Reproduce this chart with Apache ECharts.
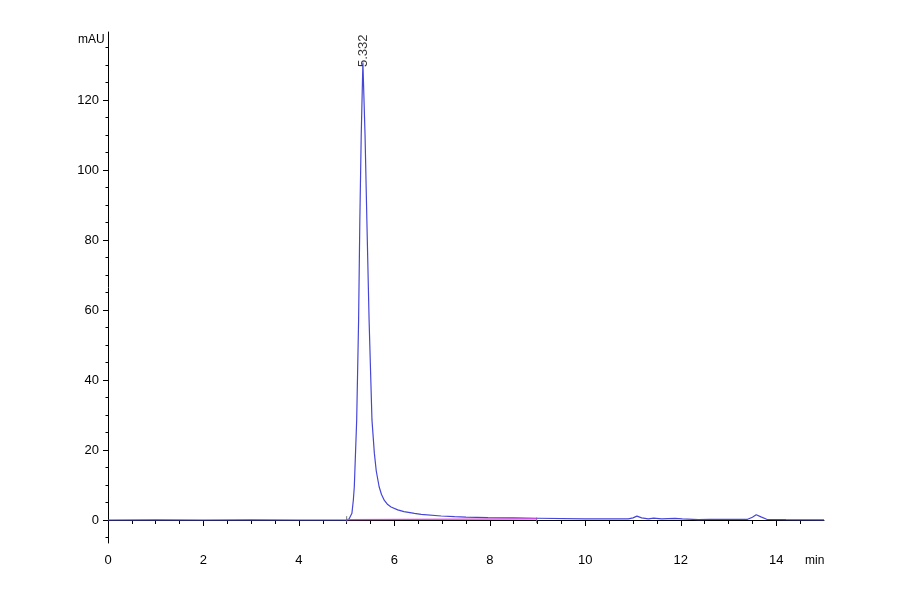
<!DOCTYPE html>
<html>
<head>
<meta charset="utf-8">
<script src="https://cdn.jsdelivr.net/npm/echarts@6/dist/echarts.min.js"></script>
<style>
html,body{margin:0;padding:0;background:#fff;}
#chart{width:900px;height:594px;}
</style>
</head>
<body>
<div id="chart"></div>
<script>
// ---- data ----
const timeMin = [0, 1, 2, 3, 4, 4.9, 5.0, 5.05, 5.09, 5.11, 5.14, 5.16, 5.21, 5.25, 5.276, 5.305, 5.34,
  5.385, 5.423, 5.47, 5.53, 5.58, 5.62, 5.68, 5.73, 5.79, 5.86, 5.93, 6.07, 6.2, 6.42, 6.56, 6.98, 7.26,
  7.5, 7.96, 8.5, 9.0, 10.0, 10.9, 11.0, 11.08, 11.18, 11.32, 11.43, 11.6, 11.88, 12.03, 12.37, 12.6,
  13.4, 13.5, 13.58, 13.68, 13.8, 14.2, 15.0];
const signalMAU = [0, 0.02, 0, 0.02, 0, 0, 0.05, 0.3, 0.8, 1.9, 5.7, 9.5, 28.6, 57, 85.7, 110, 130.7,
  110, 85.7, 57, 28.6, 19.1, 14, 9.5, 7.3, 5.6, 4.4, 3.7, 2.9, 2.4, 1.9, 1.6, 1.15, 0.95,
  0.85, 0.7, 0.6, 0.5, 0.35, 0.3, 0.6, 1.1, 0.6, 0.3, 0.55, 0.3, 0.45, 0.3, 0.1, 0.2,
  0.2, 0.8, 1.5, 0.9, 0.2, 0.1, 0.05];
const baselineTime = [5.0, 8.98];
const baselineValue = [0.1, 0.3];
const peakTime = 5.332;
const peakHeight = 130.7;
const peakLabel = '5.332';
const xMajorTicks = [0, 2, 4, 6, 8, 10, 12, 14];
const xMinorTicks = [0.5, 1, 1.5, 2.5, 3, 3.5, 4.5, 5, 5.5, 6.5, 7, 7.5, 8.5, 9, 9.5, 10.5, 11, 11.5, 12.5, 13, 13.5, 14.5];
const yMajorTicks = [0, 20, 40, 60, 80, 100, 120];
const yMinorTicks = [-5, 5, 10, 15, 25, 30, 35, 45, 50, 55, 65, 70, 75, 85, 90, 95, 105, 110, 115, 125, 130, 135];
const xRange = [0, 15];
const yRange = [-6.571, 139.43];

const FONT = "'Liberation Sans',Arial,sans-serif";
const GRID = {left: 108, right: 76, top: 32, bottom: 51, containLabel: false};

const chart = echarts.init(document.getElementById('chart'), null, {renderer: 'canvas'});

const trace = timeMin.map((t, i) => [t, signalMAU[i]]);
const baseline = baselineTime.map((t, i) => [t, baselineValue[i]]);
const tickA = [[baselineTime[0], baselineValue[0] - 0.8], [baselineTime[0], baselineValue[0] + 1.0]];
const tickB = [[baselineTime[1], baselineValue[1] - 1.2], [baselineTime[1], baselineValue[1] + 0.4]];

chart.setOption({
  animation: false,
  backgroundColor: '#fff',
  grid: [Object.assign({}, GRID), Object.assign({}, GRID)],
  xAxis: [{
    gridIndex: 0, type: 'value', min: xRange[0], max: xRange[1], position: 'bottom',
    axisLine: {show: true, lineStyle: {color: '#000', width: 1}},
    axisTick: {show: true, length: 6, customValues: xMajorTicks, lineStyle: {color: '#000'}},
    axisLabel: {show: true, customValues: xMajorTicks, margin: 11, color: '#000', fontSize: 13, fontFamily: FONT},
    splitLine: {show: false}
  }, {
    gridIndex: 1, type: 'value', min: xRange[0], max: xRange[1], position: 'bottom',
    axisLine: {show: false},
    axisTick: {show: true, length: 4, customValues: xMinorTicks, lineStyle: {color: '#000'}},
    axisLabel: {show: false},
    splitLine: {show: false}
  }],
  yAxis: [{
    gridIndex: 0, type: 'value', min: yRange[0], max: yRange[1], position: 'left',
    axisLine: {show: true, lineStyle: {color: '#000', width: 1}},
    axisTick: {show: true, length: 5, customValues: yMajorTicks, lineStyle: {color: '#000'}},
    axisLabel: {show: true, customValues: yMajorTicks, margin: 9, color: '#000', fontSize: 13, fontFamily: FONT},
    splitLine: {show: false}
  }, {
    gridIndex: 1, type: 'value', min: yRange[0], max: yRange[1], position: 'left',
    axisLine: {show: false},
    axisTick: {show: true, length: 2.5, customValues: yMinorTicks, lineStyle: {color: '#000'}},
    axisLabel: {show: false},
    splitLine: {show: false}
  }],
  graphic: [
    {type: 'text', left: 78, top: 34, style: {text: 'mAU', fill: '#000', font: "12px " + FONT}},
    {type: 'text', left: 805, top: 555, style: {text: 'min', fill: '#000', font: "12px " + FONT}}
  ],
  series: [
    {
      type: 'line', data: tickA, xAxisIndex: 0, yAxisIndex: 0, showSymbol: false, silent: true,
      lineStyle: {color: '#777', width: 1}, z: 2
    },
    {
      type: 'line', data: tickB, xAxisIndex: 0, yAxisIndex: 0, showSymbol: false, silent: true,
      lineStyle: {color: '#777', width: 1}, z: 2
    },
    {
      type: 'line', data: trace, xAxisIndex: 0, yAxisIndex: 0, showSymbol: false, silent: true,
      lineStyle: {color: '#4646d6', width: 1.2}, z: 3
    },
    {
      type: 'line', data: baseline, xAxisIndex: 0, yAxisIndex: 0, showSymbol: false, silent: true,
      lineStyle: {color: '#e040e0', width: 1.3}, z: 4
    },
    {
      type: 'scatter', data: [[peakTime, peakHeight]], xAxisIndex: 0, yAxisIndex: 0,
      symbolSize: 0, silent: true, z: 5,
      label: {
        show: true, formatter: peakLabel, position: 'inside', rotate: 90,
        align: 'left', verticalAlign: 'middle', offset: [-4.5, 1],
        color: '#000', fontSize: 13, fontFamily: FONT
      }
    }
  ]
});
</script>
</body>
</html>
